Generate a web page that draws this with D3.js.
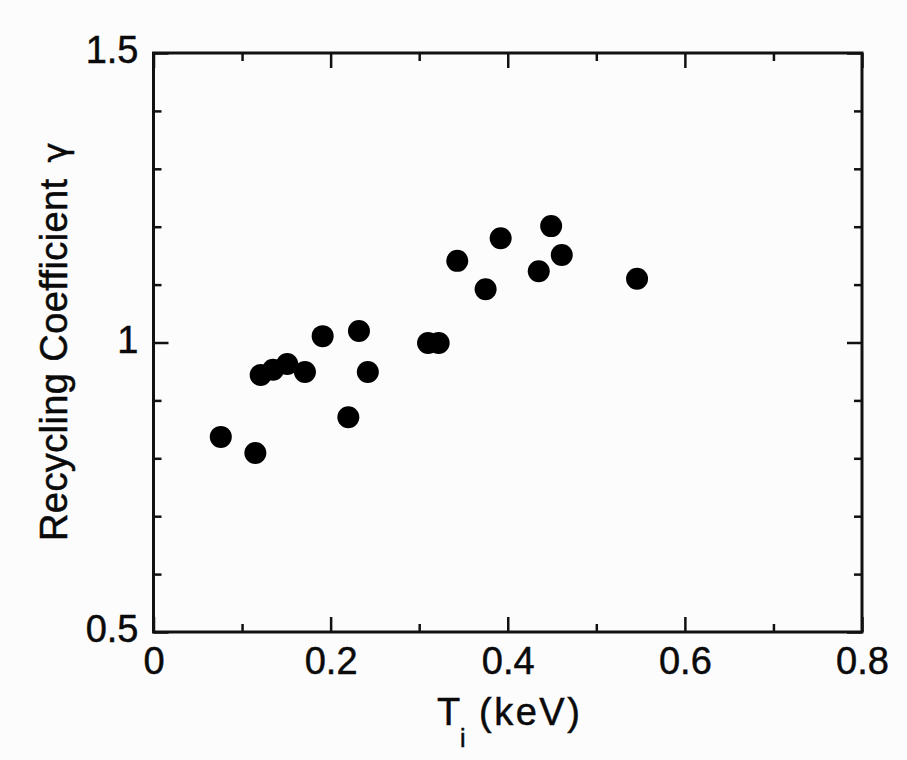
<!DOCTYPE html>
<html>
<head>
<meta charset="utf-8">
<script src="https://cdn.jsdelivr.net/npm/d3@7"></script>
<style>
  html, body { margin: 0; padding: 0; background: #fcfcfc; }
  svg { display: block; }
  text { font-family: "Liberation Sans", Arial, Helvetica, sans-serif; fill: #0a0a0a; stroke: #0a0a0a; stroke-width: 0.5px; }
</style>
</head>
<body>
<svg id="chart" width="907" height="760"></svg>
<script>
// Ion temperature Ti (keV)
const tiValues = [0.076, 0.115, 0.121, 0.135, 0.151, 0.171, 0.191, 0.220, 0.232, 0.242,
                  0.310, 0.322, 0.343, 0.375, 0.392, 0.435, 0.449, 0.461, 0.546];
// Recycling coefficient gamma
const gammaValues = [0.837, 0.809, 0.944, 0.953, 0.963, 0.949, 1.011, 0.871, 1.020, 0.949,
                     0.999, 0.999, 1.141, 1.092, 1.180, 1.123, 1.201, 1.151, 1.110];
const xTickLabels = [0, 0.2, 0.4, 0.6, 0.8];
const xMinorTicks = [0.1, 0.3, 0.5, 0.7];
const yTickLabels = [0.5, 1, 1.5];
const yMinorTicks = [0.6, 0.7, 0.8, 0.9, 1.1, 1.2, 1.3, 1.4];
const xTitle = "T";
const xTitleSub = "i";
const xTitleUnit = "(keV)";
const yTitle = "Recycling Coefficient";
const yTitleSymbol = "γ";

const svg = d3.select("#chart");
const pLeft = 153.5, pRight = 862, pTop = 53, pBottom = 632;
const x = d3.scaleLinear().domain([0, 0.8]).range([pLeft, pRight]);
const y = d3.scaleLinear().domain([0.5, 1.5]).range([pBottom, pTop]);

const fmt = d => (d === 0 ? "0" : d3.format("")(d));

function styleAxis(g) {
  g.select(".domain").remove();
  g.selectAll(".tick line").attr("stroke", "#111").attr("stroke-width", 2.5);
  g.attr("font-family", null);
}
// bottom
svg.append("g").attr("transform", `translate(0,${pBottom})`)
  .call(d3.axisBottom(x).tickValues(xTickLabels).tickSize(-15).tickPadding(15).tickFormat(fmt))
  .call(styleAxis)
  .selectAll("text").attr("font-size", 38).attr("dy", "0.71em");
svg.append("g").attr("transform", `translate(0,${pBottom})`)
  .call(d3.axisBottom(x).tickValues(xMinorTicks).tickSize(-8).tickFormat(""))
  .call(styleAxis);
// top mirrored
svg.append("g").attr("transform", `translate(0,${pTop})`)
  .call(d3.axisTop(x).tickValues(xTickLabels).tickSize(-15).tickFormat(""))
  .call(styleAxis);
svg.append("g").attr("transform", `translate(0,${pTop})`)
  .call(d3.axisTop(x).tickValues(xMinorTicks).tickSize(-8).tickFormat(""))
  .call(styleAxis);
// left
svg.append("g").attr("transform", `translate(${pLeft},0)`)
  .call(d3.axisLeft(y).tickValues(yTickLabels).tickSize(-15).tickPadding(15).tickFormat(d3.format("")))
  .call(styleAxis)
  .selectAll("text").attr("font-size", 38).attr("dy", "0.26em");
svg.append("g").attr("transform", `translate(${pLeft},0)`)
  .call(d3.axisLeft(y).tickValues(yMinorTicks).tickSize(-8).tickFormat(""))
  .call(styleAxis);
// right
svg.append("g").attr("transform", `translate(${pRight},0)`)
  .call(d3.axisRight(y).tickValues(yTickLabels).tickSize(-15).tickFormat(""))
  .call(styleAxis);
svg.append("g").attr("transform", `translate(${pRight},0)`)
  .call(d3.axisRight(y).tickValues(yMinorTicks).tickSize(-8).tickFormat(""))
  .call(styleAxis);

// frame
svg.append("rect")
  .attr("x", pLeft).attr("y", pTop)
  .attr("width", pRight - pLeft).attr("height", pBottom - pTop)
  .attr("fill", "none").attr("stroke", "#111").attr("stroke-width", 3);

// points
svg.append("g").selectAll("circle")
  .data(tiValues.map((t, i) => [t, gammaValues[i]]))
  .join("circle")
  .attr("cx", d => x(d[0]))
  .attr("cy", d => y(d[1]))
  .attr("r", 11)
  .attr("fill", "#000");

// x title
const xt = svg.append("text")
  .attr("x", 437).attr("y", 725)
  .attr("font-size", 38);
xt.append("tspan").text(xTitle);
xt.append("tspan").attr("font-size", 25).attr("x", 460).attr("dy", 22).text(xTitleSub);
xt.append("tspan").attr("x", 479).attr("dy", -22).attr("letter-spacing", 2.5).text(xTitleUnit);

// y title
const yt = svg.append("text")
  .attr("transform", "translate(67,541) rotate(-90)")
  .attr("font-size", 38)
  .attr("letter-spacing", 0.4);
yt.append("tspan").text(yTitle);
yt.append("tspan").attr("dx", 16).attr("font-family", "'DejaVu Sans', sans-serif").attr("font-size", 34).text(yTitleSymbol);
</script>
</body>
</html>
